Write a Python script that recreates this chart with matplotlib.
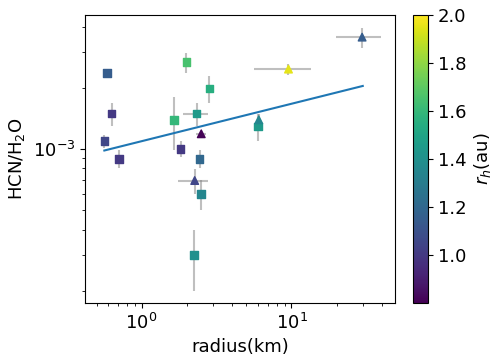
import numpy as np
import matplotlib
matplotlib.use('Agg')
import matplotlib.pyplot as plt

# square markers
sq_r = [0.585, 0.63, 0.564, 0.706, 1.99, 2.83, 2.33, 1.65, 5.96, 1.82, 2.44, 2.5, 2.23]
sq_ratio = [2.37e-3, 1.49e-3, 1.095e-3, 0.893e-3, 2.67e-3, 1.98e-3, 1.49e-3, 1.39e-3, 1.29e-3, 1.0e-3, 0.893e-3, 0.6e-3, 0.3e-3]
sq_ratio_err = [0.05e-3, 0.2e-3, 0.08e-3, 0.09e-3, 0.3e-3, 0.3e-3, 0.2e-3, 0.4e-3, 0.2e-3, 0.09e-3, 0.09e-3, 0.1e-3, 0.1e-3]
sq_r_err = [0, 0, 0, 0, 0, 0, 0.43, 0, 0, 0, 0, 0, 0]
sq_rh = [1.15, 1.0, 1.05, 1.0, 1.65, 1.55, 1.45, 1.6, 1.45, 1.0, 1.2, 1.35, 1.4]

# triangle markers
tri_r = [2.5, 6.05, 9.55, 29.6, 2.26]
tri_ratio = [1.186e-3, 1.39e-3, 2.47e-3, 3.55e-3, 0.698e-3]
tri_ratio_err = [0.0, 0.1e-3, 0.15e-3, 0.4e-3, 0.1e-3]
tri_r_err = [0.2, 0, 3.95, 9.9, 0.5]
tri_rh = [0.81, 1.35, 1.95, 1.15, 1.05]

# power-law fit
fit_r = [0.564, 29.9]
fit_ratio = [0.981e-3, 2.04e-3]

plt.rcParams['font.size'] = 13

fig = plt.figure(figsize=(4.98, 3.62), dpi=100)
ax = fig.add_axes([0.171, 0.163, 0.622, 0.796])
cax = fig.add_axes([0.829, 0.163, 0.030, 0.796])

ax.errorbar(sq_r, sq_ratio, yerr=sq_ratio_err, xerr=sq_r_err, fmt='none',
            ecolor='grey', alpha=0.5, zorder=1)
ax.errorbar(tri_r, tri_ratio, yerr=tri_ratio_err, xerr=tri_r_err, fmt='none',
            ecolor='grey', alpha=0.5, zorder=1)

vmin, vmax = 0.8, 2.0
sc = ax.scatter(sq_r, sq_ratio, c=sq_rh, cmap='viridis', vmin=vmin, vmax=vmax,
                marker='s', s=30, zorder=3)
ax.scatter(tri_r, tri_ratio, c=tri_rh, cmap='viridis', vmin=vmin, vmax=vmax,
           marker='^', s=30, zorder=3)

ax.plot(fit_r, fit_ratio, color='#1f77b4', zorder=2)

ax.set_xscale('log')
ax.set_yscale('log')
ax.set_xlim(0.42, 49)
ax.set_ylim(1.74e-4, 4.57e-3)
ax.set_xlabel('radius(km)')
ax.set_ylabel('HCN/H$_2$O')

cb = fig.colorbar(sc, cax=cax)
cb.set_label('$r_h$(au)')
cb.set_ticks([1.0, 1.2, 1.4, 1.6, 1.8, 2.0])

fig.savefig('out.png', dpi=100)
